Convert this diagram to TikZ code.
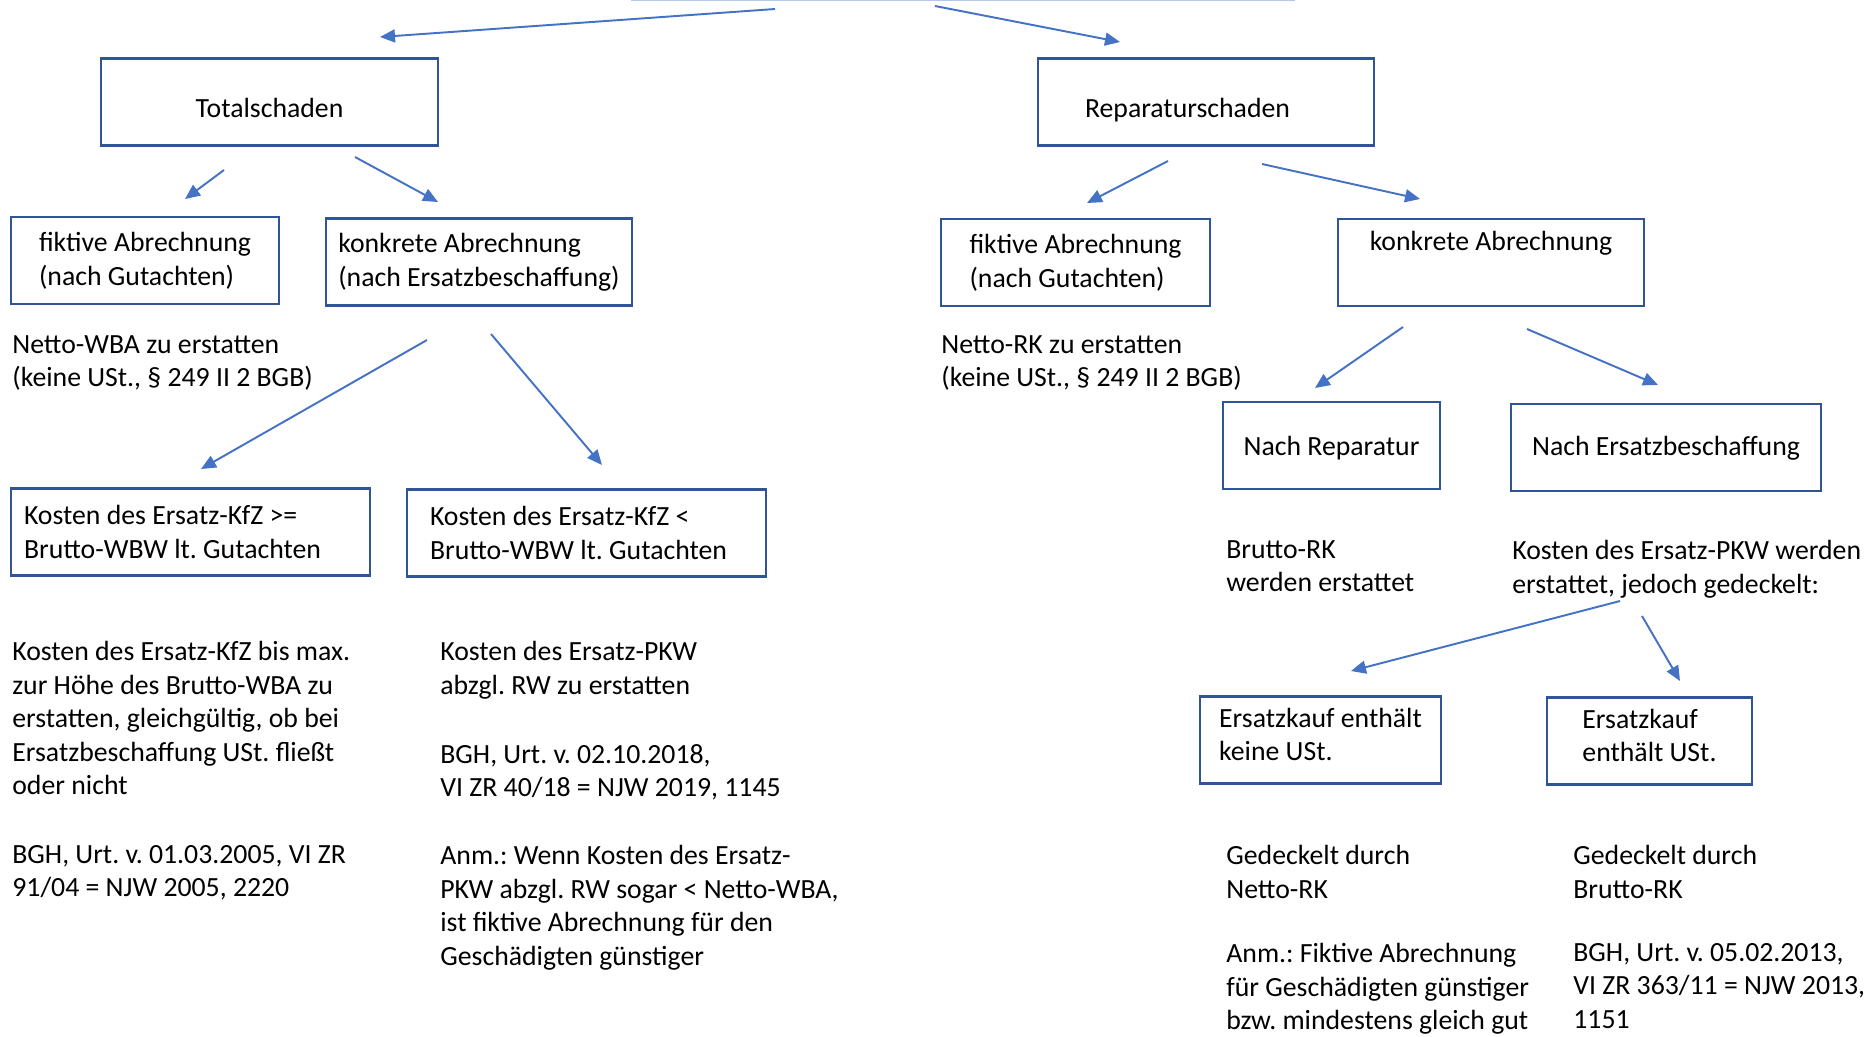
\documentclass[tikz,border=0pt]{standalone}
\usepackage{fontspec}
\setmainfont{Carlito}
\usetikzlibrary{arrows.meta}
\definecolor{rahmencol}{HTML}{2F5597}
\definecolor{pfeilcol}{HTML}{4472C4}
\definecolor{blasscol}{HTML}{B4C7E7}
\newcommand{\schrift}{\fontsize{15.8}{19.1}\selectfont}
\tikzset{
  kasten/.style={draw=rahmencol,line width=1.2pt,minimum height=1.74cm,align=flush left,font=\schrift},
  einzeilig/.style={text height=#1,text depth=0pt},
  notiz/.style={anchor=north west,align=left,inner sep=0pt,font=\schrift,execute at begin node=\strut},
  pfeil/.style={draw=pfeilcol,line width=1.1pt,-{Triangle[length=0.3cm,width=0.26cm]}}
}

\begin{document}
\frenchspacing
\begin{tikzpicture}[x=0.02cm,y=-0.02cm]
\useasboundingbox (0,0) rectangle (1870,1036);
% Rest des oberen Kastens
\draw[blasscol,line width=0.6pt] (631,0.5) -- (1295,0.5);

% erste Ebene
\node[kasten,einzeilig=0.6cm,minimum width=6.74cm] (total) at (269.5,102) {Totalschaden};
\node[kasten,einzeilig=0.6cm,minimum width=6.72cm,text width=4.84cm,inner xsep=0.94cm] (repar) at (1206,102) {Reparaturschaden};

% zweite Ebene
\node[kasten,minimum width=5.36cm] (fiktivL) at (145,260.5) {fiktive Abrechnung\\(nach Gutachten)};
\node[kasten,minimum width=6.12cm] (konkretL) at (479,262) {konkrete Abrechnung\\(nach Ersatzbeschaffung)};
\node[kasten,minimum width=5.38cm] (fiktivR) at (1075.5,262.5) {fiktive Abrechnung\\(nach Gutachten)};
\node[kasten,minimum width=6.12cm] (konkretR) at (1491,262.5) {konkrete Abrechnung\\\strut};

\node[notiz] (nettoWBA) at (12,335) {Netto-WBA zu erstatten\\(keine USt., § 249 II 2 BGB)};
\node[notiz] (nettoRK) at (941,335) {Netto-RK zu erstatten\\(keine USt., § 249 II 2 BGB)};

% dritte Ebene
\node[kasten,minimum width=7.18cm,text width=6.66cm,inner xsep=0.26cm] (kostenGr) at (190.5,532) {Kosten des Ersatz-KfZ >=\\Brutto-WBW lt. Gutachten};
\node[kasten,minimum width=7.18cm,text width=6.26cm,inner xsep=0.46cm] (kostenKl) at (586.5,533) {Kosten des Ersatz-KfZ <\\Brutto-WBW lt. Gutachten};
\node[kasten,einzeilig=0.38cm,minimum width=4.34cm] (nachRep) at (1331.5,445.5) {Nach Reparatur};
\node[kasten,einzeilig=0.3cm,minimum width=6.2cm] (nachErs) at (1666,447.5) {Nach Ersatzbeschaffung};

\node[notiz] (erstGr) at (12,641) {Kosten des Ersatz-KfZ bis max.\\zur Höhe des Brutto-WBA zu\\erstatten, gleichgültig, ob bei\\Ersatzbeschaffung USt. fließt\\oder nicht};
\node[notiz] (bghL) at (12,845) {BGH, Urt. v. 01.03.2005, VI ZR\\91/04 = NJW 2005, 2220};
\node[notiz] (erstKl) at (440,641) {Kosten des Ersatz-PKW\\abzgl. RW zu erstatten};
\node[notiz] (bghM) at (440,744) {BGH, Urt. v. 02.10.2018,\\VI ZR 40/18 = NJW 2019, 1145};
\node[notiz] (anmM) at (440,845) {Anm.: Wenn Kosten des Ersatz-\\PKW abzgl. RW sogar < Netto-WBA,\\ist fiktive Abrechnung für den\\Geschädigten günstiger};
\node[notiz] (bruttoRK) at (1226,540) {Brutto-RK\\werden erstattet};
\node[notiz] (pkw) at (1512,540) {Kosten des Ersatz-PKW werden\\erstattet, jedoch gedeckelt:};

% vierte Ebene
\node[kasten,text depth=0.22cm,minimum width=4.82cm] (keineUSt) at (1320.5,740) {Ersatzkauf enthält\\keine USt.};
\node[kasten,text depth=0.22cm,minimum width=4.1cm] (mitUSt) at (1649.5,741) {Ersatzkauf\\enthält USt.};

\node[notiz] (gedN) at (1226,845) {Gedeckelt durch\\Netto-RK};
\node[notiz] (gedB) at (1573,845) {Gedeckelt durch\\Brutto-RK};
\node[notiz] (anmR) at (1226,943) {Anm.: Fiktive Abrechnung\\für Geschädigten günstiger\\bzw. mindestens gleich gut};
\node[notiz] (bghR) at (1573,943) {BGH, Urt. v. 05.02.2013,\\VI ZR 363/11 = NJW 2013,\\1151};

% Pfeilenden
\coordinate (a1) at (775,9);     \coordinate (b1) at (380,37);
\coordinate (a2) at (935,6);     \coordinate (b2) at (1120,42);
\coordinate (a3) at (224,170);   \coordinate (b3) at (185,199);
\coordinate (a4) at (355,157);   \coordinate (b4) at (438,202);
\coordinate (a5) at (427,340);   \coordinate (b5) at (201,469);
\coordinate (a6) at (491,334);   \coordinate (b6) at (602,465);
\coordinate (a7) at (1168,161);  \coordinate (b7) at (1087,203);
\coordinate (a8) at (1262,164);  \coordinate (b8) at (1420,199);
\coordinate (a9) at (1403,327);  \coordinate (b9) at (1315,388);
\coordinate (a10) at (1527,329); \coordinate (b10) at (1658,385);
\coordinate (a11) at (1620,601); \coordinate (b11) at (1351,671);
\coordinate (a12) at (1642,616); \coordinate (b12) at (1680,681);

\draw[pfeil] (a1) -- (b1);
\draw[pfeil] (a2) -- (b2);
\draw[pfeil] (a3) -- (b3);
\draw[pfeil] (a4) -- (b4);
\draw[pfeil] (a5) -- (b5);
\draw[pfeil] (a6) -- (b6);
\draw[pfeil] (a7) -- (b7);
\draw[pfeil] (a8) -- (b8);
\draw[pfeil] (a9) -- (b9);
\draw[pfeil] (a10) -- (b10);
\draw[pfeil] (a11) -- (b11);
\draw[pfeil] (a12) -- (b12);
\end{tikzpicture}
\end{document}
